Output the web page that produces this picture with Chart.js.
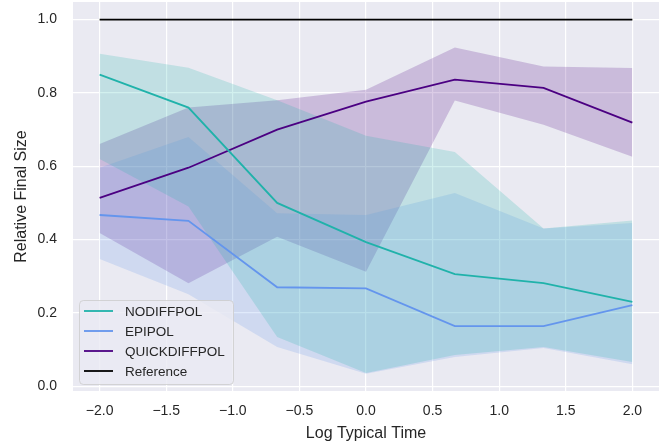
<!DOCTYPE html>
<html>
<head>
<meta charset="utf-8">
<script src="https://cdn.jsdelivr.net/npm/chart.js@4"></script>
<style>
  html, body { margin: 0; padding: 0; background: #ffffff; }
  #wrap { width: 665px; height: 445px; }
</style>
</head>
<body>
<div id="wrap"><canvas id="chart" width="665" height="445"></canvas></div>
<script>
// ---- data ----
const xValues = [-2, -1.333, -0.667, 0, 0.667, 1.333, 2];

const nodiffMean  = [0.85, 0.76, 0.50, 0.393, 0.306, 0.281, 0.23];
const nodiffUpper = [0.907, 0.869, 0.78, 0.683, 0.639, 0.43, 0.452];
const nodiffLower = [0.62, 0.49, 0.134, 0.036, 0.085, 0.107, 0.066];

const epiMean  = [0.467, 0.451, 0.27, 0.267, 0.164, 0.164, 0.221];
const epiUpper = [0.596, 0.68, 0.472, 0.467, 0.527, 0.43, 0.445];
const epiLower = [0.347, 0.251, 0.107, 0.034, 0.08, 0.104, 0.06];

const quickMean  = [0.514, 0.596, 0.70, 0.776, 0.836, 0.814, 0.719];
const quickUpper = [0.661, 0.76, 0.78, 0.809, 0.924, 0.872, 0.868];
const quickLower = [0.418, 0.281, 0.408, 0.312, 0.779, 0.713, 0.626];

const referenceX = [-2, 2];
const referenceY = [1.0, 1.0];

const xTicks = [-2, -1.5, -1, -0.5, 0, 0.5, 1, 1.5, 2];
const yTicks = [0, 0.2, 0.4, 0.6, 0.8, 1.0];

const seriesNames = ['NODIFFPOL', 'EPIPOL', 'QUICKDIFFPOL', 'Reference'];
const seriesColors = ['#20b2aa', '#6495ed', '#4b0082', '#000000'];
const bandColors = ['rgba(32,178,170,0.2)', 'rgba(100,149,237,0.2)', 'rgba(75,0,130,0.2)'];

const FONT = '"Liberation Sans", Arial, sans-serif';
const TEXT = '#262626';

// turn two arrays into points
function pts(xs, ys) {
  return xs.map((x, i) => ({ x: x, y: ys[i] }));
}

function band(upper, lower, color) {
  return [
    { data: pts(xValues, upper), fill: '+1', backgroundColor: color,
      borderWidth: 0, pointRadius: 0, tension: 0 },
    { data: pts(xValues, lower), fill: false, borderWidth: 0, pointRadius: 0, tension: 0 }
  ];
}

function meanLine(values, color) {
  return { data: pts(xValues, values), fill: false, borderColor: color,
           borderWidth: 1.8, pointRadius: 0, tension: 0 };
}

// grey plot background (seaborn darkgrid)
const plotBackground = {
  id: 'plotBackground',
  beforeDraw(chart) {
    const a = chart.chartArea;
    const ctx = chart.ctx;
    ctx.save();
    ctx.fillStyle = '#eaeaf2';
    ctx.fillRect(a.left, a.top, a.right - a.left, a.bottom - a.top);
    ctx.restore();
  }
};

// legend box in the lower left corner
const boxLegend = {
  id: 'boxLegend',
  afterDatasetsDraw(chart) {
    const ctx = chart.ctx;
    const x0 = 79.5, y0 = 300.5, w = 154, h = 84, r = 4;
    ctx.save();
    ctx.beginPath();
    ctx.roundRect(x0, y0, w, h, r);
    ctx.fillStyle = 'rgba(234,234,242,0.8)';
    ctx.fill();
    ctx.strokeStyle = 'rgba(204,204,204,0.8)';
    ctx.lineWidth = 1;
    ctx.stroke();
    ctx.font = '13.5px ' + FONT;
    ctx.textBaseline = 'middle';
    ctx.fillStyle = TEXT;
    seriesNames.forEach((name, i) => {
      const y = 311 + i * 20;
      ctx.beginPath();
      ctx.moveTo(84, y);
      ctx.lineTo(113, y);
      ctx.strokeStyle = seriesColors[i];
      ctx.lineWidth = 1.8;
      ctx.stroke();
      ctx.fillText(name, 125, y + 1);
    });
    ctx.restore();
  }
};

const datasets = [
  ...band(nodiffUpper, nodiffLower, bandColors[0]),
  ...band(epiUpper, epiLower, bandColors[1]),
  ...band(quickUpper, quickLower, bandColors[2]),
  meanLine(nodiffMean, seriesColors[0]),
  meanLine(epiMean, seriesColors[1]),
  meanLine(quickMean, seriesColors[2]),
  { data: pts(referenceX, referenceY), fill: false, borderColor: seriesColors[3],
    borderWidth: 1.8, pointRadius: 0 }
];

new Chart(document.getElementById('chart'), {
  type: 'line',
  data: { datasets: datasets },
  plugins: [plotBackground, boxLegend],
  options: {
    responsive: false,
    animation: false,
    layout: { padding: { top: 2, right: 6, left: 0, bottom: 0 } },
    plugins: {
      legend: { display: false },
      tooltip: { enabled: false },
      filler: { drawTime: 'beforeDatasetsDraw' }
    },
    scales: {
      x: {
        type: 'linear',
        min: -2.2,
        max: 2.2,
        afterBuildTicks(scale) { scale.ticks = xTicks.map(v => ({ value: v })); },
        afterFit(scale) {
          scale.height = 54;
          scale.paddingLeft = 0;
          scale.paddingRight = 0;
        },
        grid: { color: '#ffffff', lineWidth: 1.2, drawTicks: false },
        border: { display: false },
        ticks: {
          padding: 12,
          color: TEXT,
          font: { family: FONT, size: 14 },
          callback: v => (v < 0 ? '\u2212' : '') + Math.abs(v).toFixed(1)
        },
        title: {
          display: true,
          text: 'Log Typical Time',
          color: TEXT,
          font: { family: FONT, size: 16 },
          padding: { top: 0, bottom: 2 }
        }
      },
      y: {
        type: 'linear',
        min: -0.013,
        max: 1.048,
        afterBuildTicks(scale) { scale.ticks = yTicks.map(v => ({ value: v })); },
        afterFit(scale) {
          scale.width = 73;
          scale.paddingTop = 0;
          scale.paddingBottom = 0;
        },
        grid: { color: '#ffffff', lineWidth: 1.2, drawTicks: false },
        border: { display: false },
        ticks: {
          padding: 16,
          color: TEXT,
          font: { family: FONT, size: 14 },
          callback: v => v.toFixed(1)
        },
        title: {
          display: true,
          text: 'Relative Final Size',
          color: TEXT,
          font: { family: FONT, size: 16 },
          padding: { top: 12, bottom: 0 }
        }
      }
    }
  }
});
</script>
</body>
</html>
